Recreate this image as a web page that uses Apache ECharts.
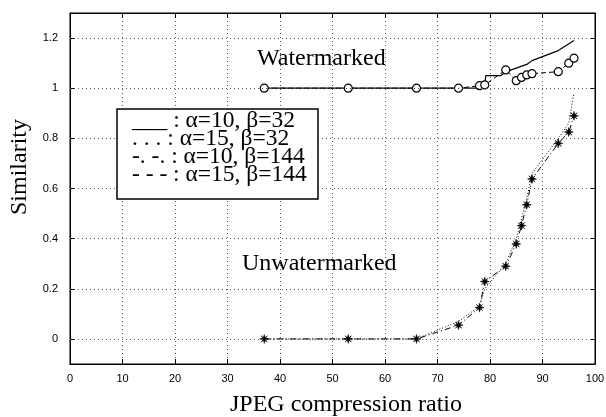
<!DOCTYPE html>
<html><head><meta charset="utf-8">
<script src="https://cdn.jsdelivr.net/npm/echarts@6/dist/echarts.min.js"></script>
<style>html,body{margin:0;padding:0;background:#fff}#c{width:606px;height:417px}</style>
</head><body><div id="c"></div>
<script>
// Data
var xTicks = [0,10,20,30,40,50,60,70,80,90,100];
var yTicks = [0,0.2,0.4,0.6,0.8,1,1.2];
var xPts = [37,53,66,74,78,79,83,85,86,87,88,93,95,96];
// watermarked, circles
var wCircle = [1,1,1,1,1.01,1.013,1.073,1.03,1.043,1.053,1.058,1.066,1.10,1.12];
// watermarked, solid line
var wSolidX = [37,53,66,74,78,79,79.2,82,83,87,88,93,96];
var wSolidY = [1,1,1,1,1,1.015,1.05,1.05,1.065,1.095,1.11,1.15,1.19];
// unwatermarked, stars (dash-dot)
var uStar = [0,0,0,0.055,0.125,0.229,0.29,0.379,0.452,0.535,0.638,0.78,0.825,0.89];
// unwatermarked, dotted
var uDot = [0,0,0,0.07,0.13,0.2,0.3,0.4,0.48,0.56,0.66,0.8,0.86,0.98];
var legendLines = ['___ : \u03b1=10, \u03b2=32', '. . . : \u03b1=15, \u03b2=32', '-. -. : \u03b1=10, \u03b2=144', '- - - : \u03b1=15, \u03b2=144'];

function pairs(xs, ys){ return xs.map(function(x,i){return [x, ys[i]];}); }
var starPath = 'path://M0,-10 L2,-3 L7,-7 L3,-2 L10,0 L3,2 L7,7 L2,3 L0,10 L-2,3 L-7,7 L-3,2 L-10,0 L-3,-2 L-7,-7 L-2,-3 Z';

var chart = echarts.init(document.getElementById('c'), null, {renderer:'canvas'});
var axisLbl = {fontFamily:'Liberation Sans', fontSize:11, color:'#000'};
var gridLine = {show:true, lineStyle:{color:'#555', type:[1,3], width:1}};
var serif = '"Liberation Serif"';
var graphics = [
  {type:'text', x:257, y:71, style:{text:'Watermarked', font:'24px ' + serif, fill:'#000', verticalAlign:'bottom'}},
  {type:'text', x:242, y:276, style:{text:'Unwatermarked', font:'24px ' + serif, fill:'#000', verticalAlign:'bottom'}},
  {type:'text', x:346, y:417, style:{text:'JPEG compression ratio', font:'24px ' + serif, fill:'#000', align:'center', verticalAlign:'bottom'}},
  {type:'text', x:20, y:167, rotation:Math.PI/2, style:{text:'Similarity', font:'24px ' + serif, fill:'#000', align:'center', verticalAlign:'middle'}},
  {type:'rect', x:117, y:109, shape:{width:201, height:90}, style:{fill:'#fff', stroke:'#000', lineWidth:1.5}, z:10}
];
legendLines.forEach(function(t, i){
  graphics.push({type:'text', x:132, y:133 + i*18, z:11,
    style:{text:t, font:'23.5px ' + serif, fill:'#000', verticalAlign:'bottom'}});
});

chart.setOption({
  animation:false,
  backgroundColor:'#fff',
  grid:{left:70, right:11, top:13, bottom:53, show:true, borderColor:'#000', borderWidth:1, outerBoundsMode:'none', containLabel:false},
  xAxis:[{
    type:'value', min:0, max:100, interval:10,
    axisLine:{show:true, onZero:false, lineStyle:{color:'#000'}},
    axisTick:{show:true, inside:true, length:5, lineStyle:{color:'#000'}},
    axisLabel:Object.assign({margin:9}, axisLbl),
    splitLine:gridLine
  },{
    type:'value', min:0, max:100, interval:10, position:'top',
    axisLine:{show:true, onZero:false, lineStyle:{color:'#000'}},
    axisTick:{show:true, inside:true, length:5, lineStyle:{color:'#000'}},
    axisLabel:{show:false}, splitLine:{show:false}
  }],
  yAxis:[{
    type:'value', min:-0.1, max:1.3,
    axisLine:{show:true, onZero:false, lineStyle:{color:'#000'}},
    axisTick:{show:true, inside:true, length:5, lineStyle:{color:'#000'}, customValues:yTicks},
    axisLabel:Object.assign({margin:12, customValues:yTicks, formatter:function(v){return String(Math.round(v*10)/10);}}, axisLbl),
    splitLine:{show:false}
  },{
    type:'value', min:-0.1, max:1.3, position:'right',
    axisLine:{show:true, onZero:false, lineStyle:{color:'#000'}},
    axisTick:{show:true, inside:true, length:5, lineStyle:{color:'#000'}, customValues:yTicks},
    axisLabel:{show:false}, splitLine:{show:false}
  }],
  series:[
    {type:'line', data:pairs(wSolidX, wSolidY), showSymbol:false, symbol:'none',
     lineStyle:{color:'#000', width:1.2}, z:3},
    {type:'line', data:pairs(xPts, wCircle), symbol:'circle', symbolSize:8, showAllSymbol:true,
     itemStyle:{color:'#fff', borderColor:'#000', borderWidth:1.2},
     lineStyle:{color:'#000', width:1, type:[5,3]}, z:4},
    {type:'line', data:pairs(xPts, uDot), symbol:'none',
     lineStyle:{color:'#000', width:1, type:[1,2]}, z:3},
    {type:'line', data:pairs(xPts, uStar), symbol:starPath, symbolSize:9, showAllSymbol:true,
     itemStyle:{color:'#000', borderColor:'#000', borderWidth:0.5},
     lineStyle:{color:'#000', width:1, type:[6,3,1,3]}, z:4},
    {type:'line', data:[], markLine:{silent:true, symbol:'none', label:{show:false},
      lineStyle:{color:'#555', type:[1,3], width:1},
      data:yTicks.map(function(v){return {yAxis:v};})}}
  ],
  graphic:graphics
});
</script></body></html>
